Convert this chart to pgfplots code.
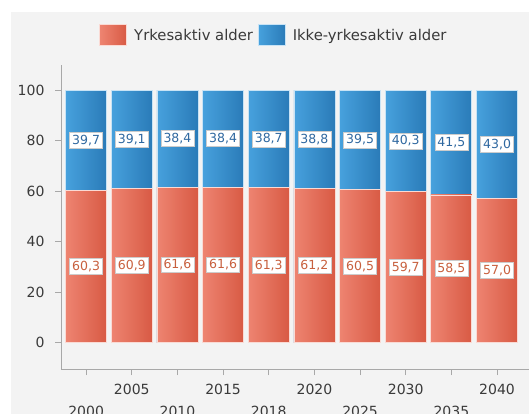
\documentclass[border=0pt]{standalone}
\usepackage{pgfplots}
\usepackage{pgfplotstable}
\pgfplotsset{compat=1.18}
\usepackage{fontspec}
\setmainfont{DejaVu Sans}
\definecolor{bg}{HTML}{F3F3F3}
\definecolor{redL}{HTML}{EE8471}
\definecolor{redR}{HTML}{D85A44}
\definecolor{bluL}{HTML}{47A1DD}
\definecolor{bluR}{HTML}{2A7BB8}
\definecolor{redT}{HTML}{C8603E}
\definecolor{bluT}{HTML}{2F68A0}
\definecolor{tickc}{HTML}{3A3A3A}
\definecolor{axl}{HTML}{A8A8A8}
\pgfplotstableread{
x year r b
0 2000 60.3 39.7
1 2005 60.9 39.1
2 2010 61.6 38.4
3 2015 61.6 38.4
4 2018 61.3 38.7
5 2020 61.2 38.8
6 2025 60.5 39.5
7 2030 59.7 40.3
8 2035 58.5 41.5
9 2040 57.0 43.0
}\data
\pgfplotsset{
  sq/.style={legend image code/.code={\path[##1] (0pt,-10.5pt) rectangle (27pt,10.5pt);}},
  redbar/.style={ybar, bar shift=0pt, bar width=41pt, left color=redL, right color=redR, draw=white!70!redL, line width=0.8pt, forget plot},
  blubar/.style={ybar, bar shift=0pt, bar width=41pt, left color=bluL, right color=bluR, draw=white!70!bluL, line width=0.8pt, forget plot},
  lab/.style={draw=none, mark=none, forget plot, nodes near coords={\pgfmathprintnumber[fixed, fixed zerofill, precision=1, use comma, assume math mode=true]{\pgfplotspointmeta}},
    every node near coord/.append style={anchor=center, fill=white, draw=gray!40, line width=0.6pt, inner xsep=2.5pt, inner ysep=2.6pt, font=\fontsize{12.5}{14}\selectfont, text=#1}},
}
\begin{document}
\begin{tikzpicture}
\path[use as bounding box] (0,0) rectangle (529pt,-414pt);
\fill[bg] (11pt,-12pt) rectangle (529pt,-414pt);
\begin{axis}[
  scale only axis, width=468pt, height=304pt,
  at={(61pt,-369pt)}, anchor=south west,
  xmin=-0.55, xmax=9.7, ymin=-10.5, ymax=110,
  axis lines*=left,
  axis line style={axl, line width=0.8pt},
  tick style={axl, line width=0.8pt},
  tick align=outside, major tick length=6pt,
  xtick={0,...,9},
  xticklabels={{\mbox{}\\[16pt]2000},2005,{\mbox{}\\[16pt]2010},2015,{\mbox{}\\[16pt]2018},2020,{\mbox{}\\[16pt]2025},2030,{\mbox{}\\[16pt]2035},2040},
  xticklabel style={align=center, font=\fontsize{14}{16}\selectfont, text=tickc, yshift=-6pt},
  ytick={0,20,...,100},
  yticklabel style={font=\fontsize{14}{16}\selectfont, text=tickc, xshift=-7pt},
  /pgf/number format/assume math mode=true,
  legend style={at={(0.455,1.098)}, anchor=center, draw=none, fill=none, legend columns=-1,
    font=\fontsize{14.8}{17}\selectfont, text=tickc,
    /tikz/every odd column/.append style={column sep=5pt},
    /tikz/every even column/.append style={column sep=3pt}},
]
\pgfplotsinvokeforeach{0,...,9}{
  \addplot[blubar, restrict x to domain=#1:#1] table[x=x, y expr={\thisrow{r}+\thisrow{b}}]{\data};
  \addplot[redbar, restrict x to domain=#1:#1] table[x=x, y=r]{\data};
}
\addplot[lab=redT, point meta={\thisrow{r}}] table[x=x, y expr={\thisrow{r}/2}]{\data};
\addplot[lab=bluT, point meta={\thisrow{b}}] table[x=x, y expr={\thisrow{r}+\thisrow{b}/2}]{\data};
\addlegendimage{sq, left color=redL, right color=redR, draw=white!70!redL, line width=0.8pt}
\addlegendentry{Yrkesaktiv alder}
\addlegendimage{sq, left color=bluL, right color=bluR, draw=white!70!bluL, line width=0.8pt}
\addlegendentry{Ikke-yrkesaktiv alder}
\end{axis}
\end{tikzpicture}
\end{document}
